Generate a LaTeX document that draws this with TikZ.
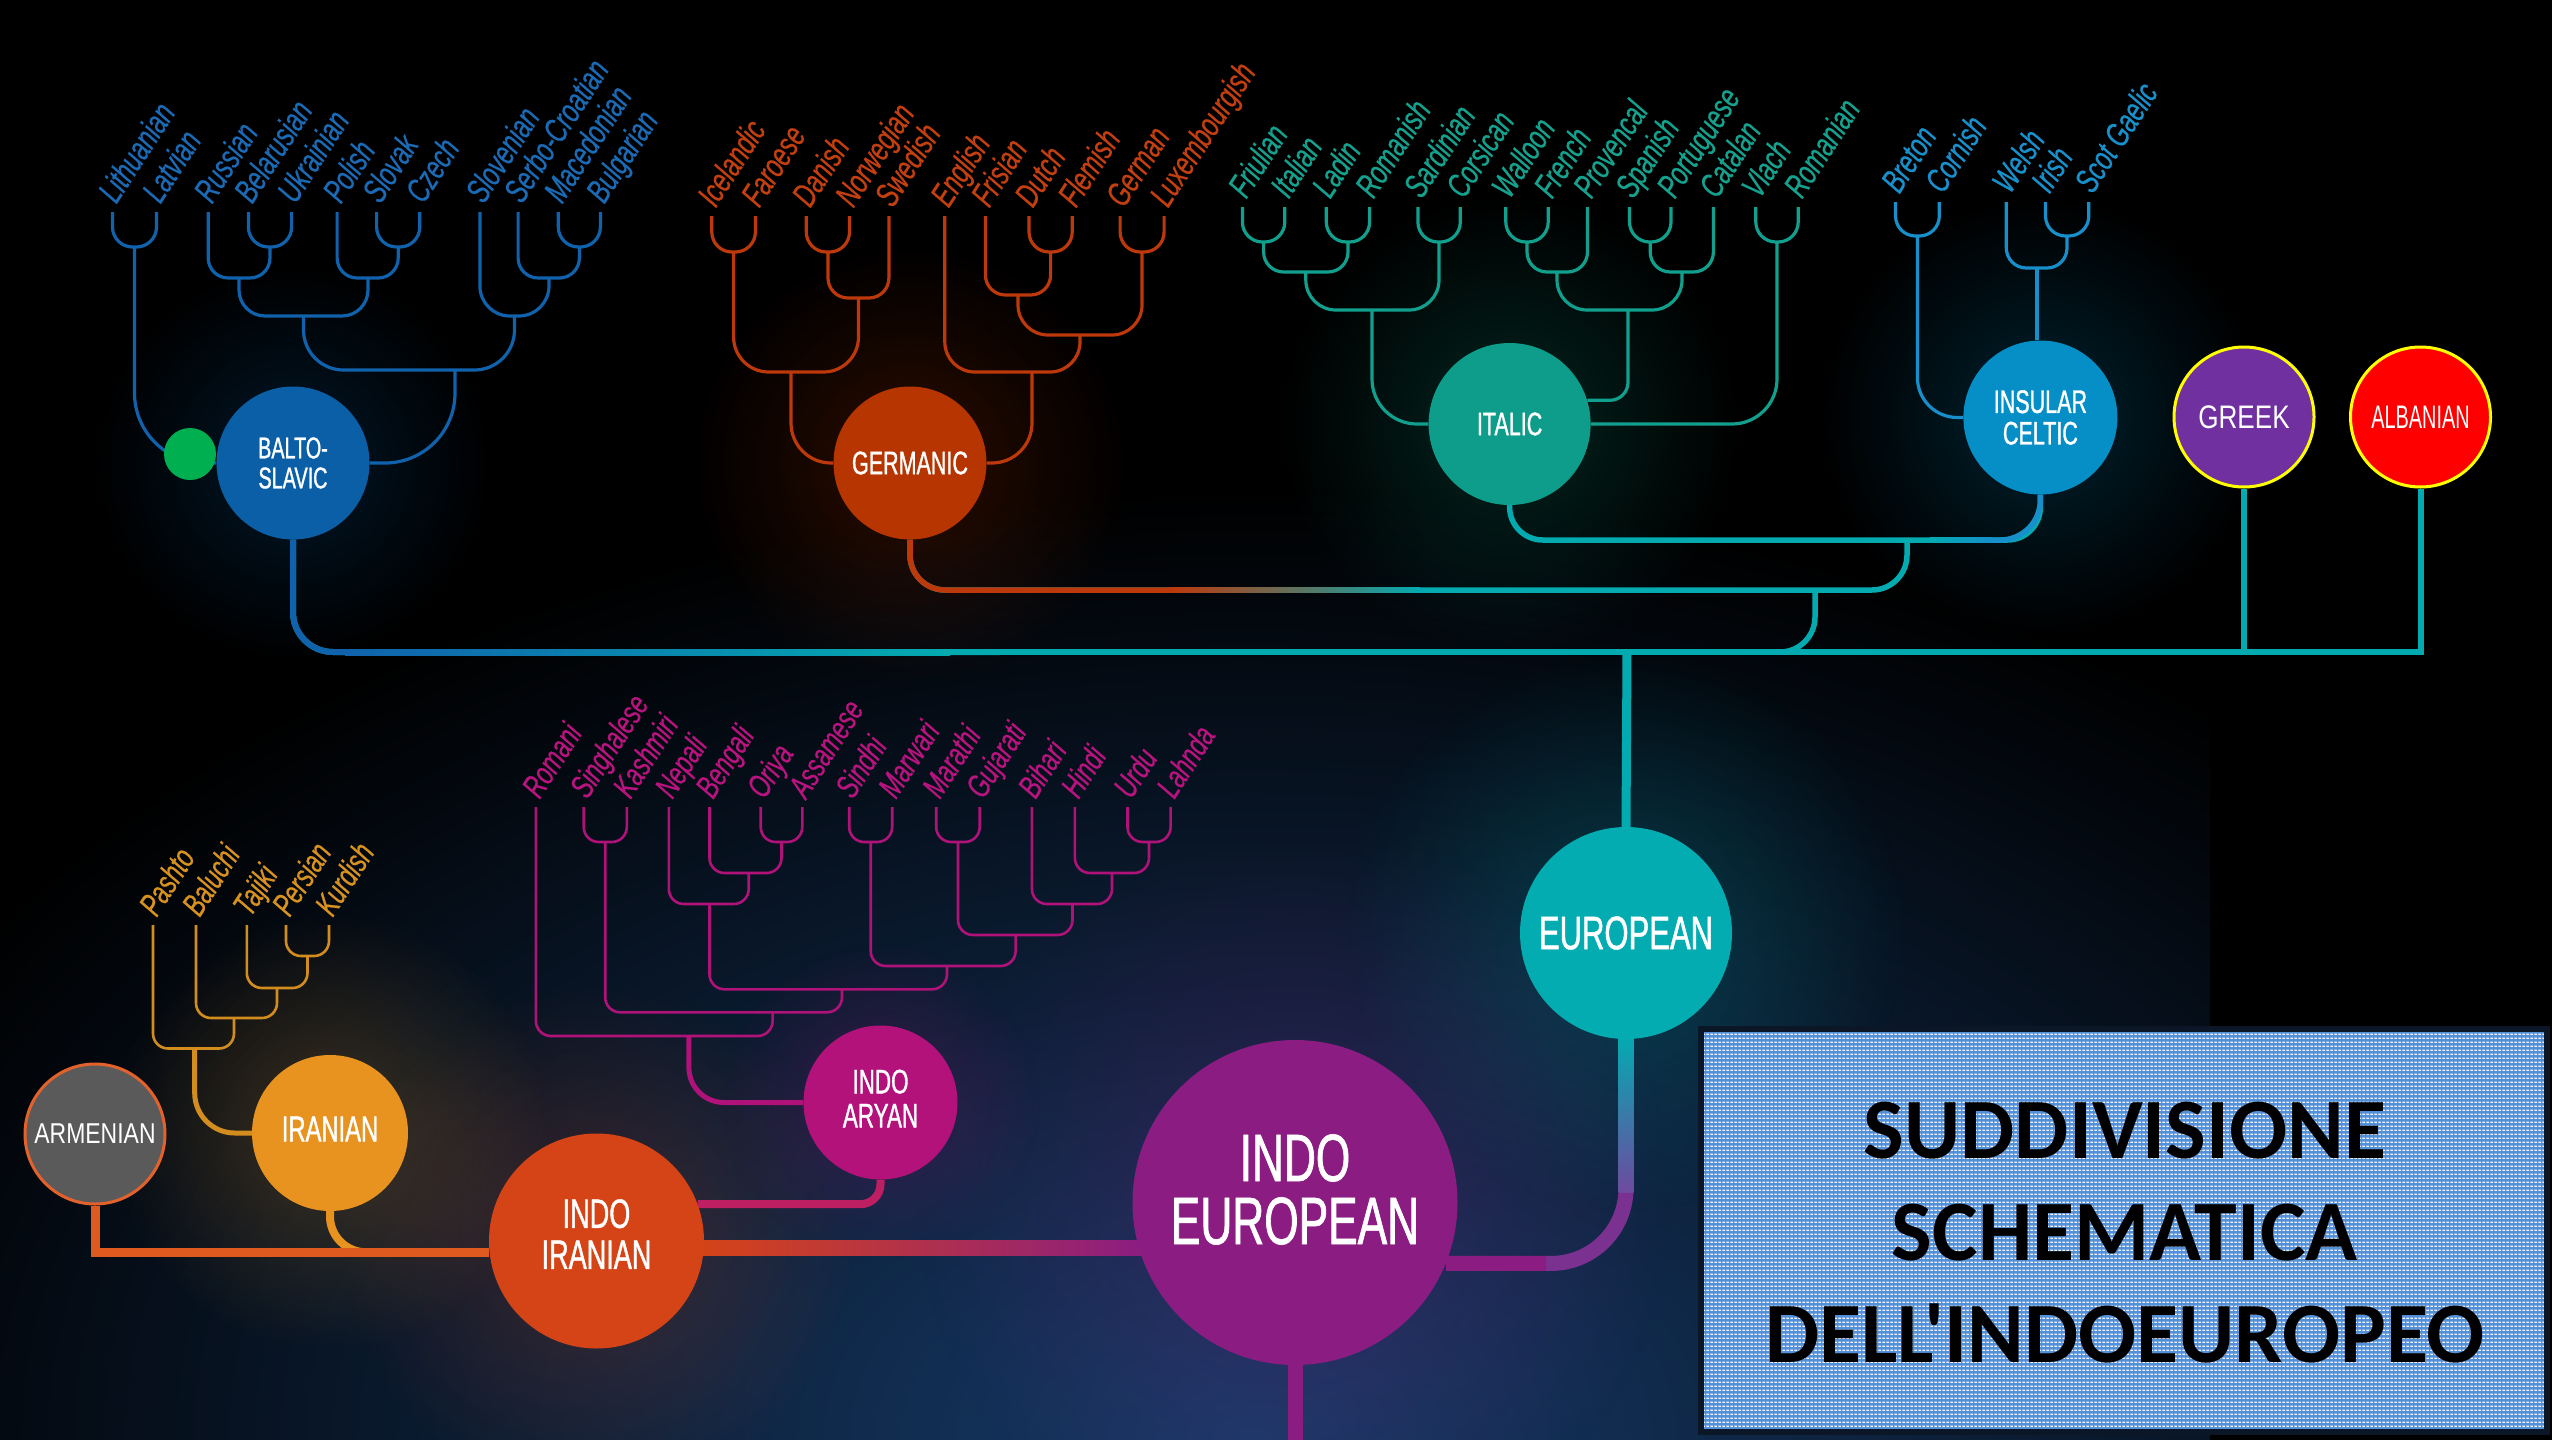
\documentclass[tikz,border=0pt]{standalone}
\usepackage{fontspec}
\usetikzlibrary{fadings,patterns.meta,calc}
\newfontfamily\leaffont[FakeStretch=0.7, FakeBold=0.6]{Liberation Sans}
\newfontfamily\condfont[FakeStretch=0.66, FakeBold=1]{Liberation Sans}
\newfontfamily\narrowfont[FakeStretch=0.8]{Liberation Sans}
\newfontfamily\albfont[FakeStretch=0.61]{Liberation Sans}
\newfontfamily\titlefont{Carlito}
\pgfdeclarelayer{back}
\pgfdeclarelayer{lines}
\pgfsetlayers{back,lines,main}
\definecolor{bsc}{HTML}{1062AC}\definecolor{bsn}{HTML}{0A5FA7}\definecolor{bst}{HTML}{1A6AB5}
\definecolor{greendot}{HTML}{00B050}
\definecolor{gmc}{HTML}{BD390B}\definecolor{gmn}{HTML}{B73500}\definecolor{gmt}{HTML}{C43F10}
\definecolor{itc}{HTML}{12A08E}\definecolor{itn}{HTML}{0E9D8A}\definecolor{itt}{HTML}{14A28F}
\definecolor{icc}{HTML}{168FCA}\definecolor{icn}{HTML}{068EC6}\definecolor{ict}{HTML}{1790CC}
\definecolor{grn}{HTML}{7030A0}\definecolor{yel}{HTML}{FFFF00}\definecolor{aln}{HTML}{FF0000}
\definecolor{euc}{HTML}{03ABB1}\definecolor{eun}{HTML}{02ACB1}
\definecolor{ien}{HTML}{8B1D82}\definecolor{ievio}{HTML}{6E4A9E}\definecolor{ievio2}{HTML}{7A3190}
\definecolor{ian}{HTML}{B4127B}\definecolor{iac}{HTML}{B0127A}\definecolor{iat}{HTML}{B8137E}\definecolor{iac2}{HTML}{BE1F63}
\definecolor{iin}{HTML}{D54417}
\definecolor{irn}{HTML}{E8931F}\definecolor{irc}{HTML}{D38D1F}\definecolor{irt}{HTML}{D8921F}
\definecolor{arn}{HTML}{5A5A5A}\definecolor{arb}{HTML}{E3622C}\definecolor{arline}{HTML}{DF5A1E}
\definecolor{boxblue}{HTML}{5290DA}\definecolor{boxedge}{HTML}{0B1626}
\definecolor{bgnavy}{HTML}{163A68}
\tikzfading[name=glowfade, inner color=transparent!76, outer color=transparent!100]
\tikzdeclarepattern{
  name=dashgrid, type=uncolored,
  bottom left={(0pt,0pt)}, top right={(4.4pt,4.4pt)},
  tile size={(4.4pt,4.4pt)},
  code={\fill (0.5pt,1.2pt) rectangle (3.3pt,2.8pt);}
}
\newcommand\nf[2]{\condfont\fontsize{#1}{#2}\selectfont}
\newcommand\mkleaf[4]{\coordinate (#1) at (#2,#3);\node[leaflab] (#1t) at ([shift={(3,-6)}]#1) {#4};}
\newcommand\mkjoin[6][]{\coordinate (#2) at (#5,#6);\draw[#1] (#3) -- (#3 |- #2) -- (#4 |- #2) -- (#4);}
\tikzset{
  gnode/.style={circle, inner sep=0pt, text=white, align=center},
  labtext/.style={text=white, align=center, inner sep=0pt},
  leaflab/.style={rotate=57, anchor=base west, inner sep=0pt, font=\leaffont\itshape\fontsize{34}{34}\selectfont},
  treeline/.style={line width=3.2pt, rounded corners=20pt},
  thintree/.style={line width=2.6pt, rounded corners=15pt},
  euline/.style={draw=euc, line width=5.5pt},
  titletext/.style={anchor=base, text=black, font=\titlefont\bfseries\fontsize{86}{86}\selectfont}
}
\begin{document}
\begin{tikzpicture}[x=1pt, y=-1pt, line cap=round]
\useasboundingbox (0,0) rectangle (2552,1440);

% ---------------- nodes ----------------
\node[gnode, fill=bsn, minimum size=153pt, font=\nf{30}{30}] (bs) at (293,463) {BALTO-\\SLAVIC};
\node[circle, fill=greendot, minimum size=52pt, inner sep=0pt] (gd) at (190,454) {};
\node[gnode, fill=gmn, minimum size=153pt, font=\nf{32.6}{32}] (gm) at (910,463) {GERMANIC};
\node[gnode, fill=itn, minimum size=162pt, font=\nf{32.6}{32}] (it) at (1509.6,424) {ITALIC};
\node[gnode, fill=icn, minimum size=154pt, font=\nf{32.6}{31.5}] (ic) at (2040.4,417.5) {INSULAR\\CELTIC};
\node[gnode, fill=grn, draw=yel, line width=3pt, minimum size=140pt, font=\narrowfont\fontsize{32.6}{32}\selectfont] (gr) at (2244,417) {GREEK};
\node[gnode, fill=aln, draw=yel, line width=3pt, minimum size=140pt, font=\albfont\fontsize{32.6}{32}\selectfont] (al) at (2420.5,417) {ALBANIAN};
\node[gnode, fill=eun, minimum size=212pt, font=\nf{47}{47}] (eu) at (1626,933) {EUROPEAN};
\node[gnode, fill=ien, minimum size=325pt,
  label={[name=ietext, labtext, yshift=13pt, font=\nf{67}{63}]center:{INDO\\EUROPEAN}}] (ie) at (1295,1202.5) {};
\node[gnode, fill=ian, minimum size=154pt,
  label={[name=iatext, labtext, yshift=4pt, font=\nf{34}{34}]center:{INDO\\ARYAN}}] (ia) at (880.5,1102.5) {};
\node[gnode, fill=iin, minimum size=215pt,
  label={[name=iitext, labtext, yshift=7pt, font=\nf{41}{41}]center:{INDO\\IRANIAN}}] (ii) at (596.5,1241) {};
\node[gnode, fill=irn, minimum size=156pt,
  label={[name=irtext, labtext, yshift=4pt, font=\nf{36}{36}]center:{IRANIAN}}] (ir) at (330,1133) {};
\node[gnode, fill=arn, draw=arb, line width=3pt, minimum size=140pt, font=\narrowfont\fontsize{28.7}{28}\selectfont] (arm) at (95,1134) {ARMENIAN};

% title box
\node[draw=boxedge, line width=6pt, preaction={fill=boxblue}, pattern=dashgrid, pattern color=white!92!boxblue, minimum width=846pt, minimum height=403pt, inner sep=0pt] (box) at (2124,1230.5) {};
\node[titletext] (t1) at (2125,1158) {SUDDIVISIONE};
\node[titletext] (t2) at (2125,1260) {SCHEMATICA};
\node[titletext] (t3) at (2125,1362) {DELL'INDOEUROPEO};

% ---------------- trees and connectors ----------------
\begin{pgfonlayer}{lines}
% Balto-Slavic
\begin{scope}[treeline, draw=bsc, leaflab/.append style={text=bst}]
\mkleaf{lith}{112.5}{212}{Lithuanian}
\mkleaf{latv}{156.5}{212}{Latvian}
\mkleaf{russ}{208.2}{212}{Russian}
\mkleaf{bela}{248.4}{212}{Belarusian}
\mkleaf{ukra}{291.6}{212}{Ukrainian}
\mkleaf{poli}{337.1}{212}{Polish}
\mkleaf{slok}{376.6}{212}{Slovak}
\mkleaf{czec}{419.8}{212}{Czech}
\mkleaf{slov}{479.9}{212}{Slovenian}
\mkleaf{serb}{518.1}{212}{Serbo-Croatian}
\mkleaf{mace}{558.3}{212}{Macedonian}
\mkleaf{bulg}{600.4}{212}{Bulgarian}
\mkjoin{bj1}{lith}{latv}{134.5}{247}
\mkjoin{bj2}{bela}{ukra}{270}{247}
\mkjoin{bj3}{russ}{bj2}{239}{278}
\mkjoin{bj4}{slok}{czec}{398.2}{247}
\mkjoin{bj5}{poli}{bj4}{368}{278}
\mkjoin{bj6}{mace}{bulg}{579.4}{247}
\mkjoin{bj7}{serb}{bj6}{549}{278}
\mkjoin[rounded corners=30pt]{bj8}{slov}{bj7}{514.5}{316}
\mkjoin[rounded corners=26pt]{bj9}{bj3}{bj5}{303.5}{316}
\mkjoin[rounded corners=40pt]{bj10}{bj9}{bj8}{455}{370}
\draw[rounded corners=70pt] (bj10) |- (bs.east);
\draw[rounded corners=70pt] (bj1) |- (bs.west);
\end{scope}
% Germanic
\begin{scope}[treeline, draw=gmc, leaflab/.append style={text=gmt}]
\mkleaf{icel}{711.8}{216}{Icelandic}
\mkleaf{faro}{755.4}{216}{Faroese}
\mkleaf{dani}{806.3}{216}{Danish}
\mkleaf{norw}{849.5}{216}{Norwegian}
\mkleaf{swed}{888.9}{216}{Swedish}
\mkleaf{engl}{944.8}{216}{English}
\mkleaf{fris}{985.4}{216}{Frisian}
\mkleaf{dutc}{1029}{216}{Dutch}
\mkleaf{flem}{1072.2}{216}{Flemish}
\mkleaf{germ}{1120.1}{216}{German}
\mkleaf{luxe}{1164.1}{216}{Luxembourgish}
\mkjoin{gj1}{icel}{faro}{733.6}{252}
\mkjoin{gj2}{dani}{norw}{828}{252}
\mkjoin{gj3}{gj2}{swed}{858.5}{298}
\mkjoin[rounded corners=35pt]{gj4}{gj1}{gj3}{791}{372}
\mkjoin{gj5}{dutc}{flem}{1050.6}{252}
\mkjoin{gj6}{fris}{gj5}{1018}{295}
\mkjoin{gj7}{germ}{luxe}{1142}{252}
\mkjoin[rounded corners=30pt]{gj8}{gj6}{gj7}{1080}{335}
\mkjoin[rounded corners=30pt]{gj9}{engl}{gj8}{1032}{372}
\draw[rounded corners=40pt] (gj4) |- (gm.west);
\draw[rounded corners=40pt] (gj9) |- (gm.east);
\end{scope}
% Italic
\begin{scope}[treeline, draw=itc, leaflab/.append style={text=itt}]
\mkleaf{friu}{1242.4}{207}{Friulian}
\mkleaf{ital}{1284.8}{207}{Italian}
\mkleaf{ladi}{1326.3}{207}{Ladin}
\mkleaf{roma}{1369.6}{207}{Romanish}
\mkleaf{sard}{1417.9}{207}{Sardinian}
\mkleaf{cors}{1460.3}{207}{Corsican}
\mkleaf{wall}{1505.8}{207}{Walloon}
\mkleaf{fren}{1548.2}{207}{French}
\mkleaf{prov}{1587.5}{207}{Provencal}
\mkleaf{span}{1629.5}{207}{Spanish}
\mkleaf{port}{1671}{207}{Portuguese}
\mkleaf{cata}{1713.4}{207}{Catalan}
\mkleaf{vlac}{1755.8}{207}{Vlach}
\mkleaf{romn}{1798.2}{207}{Romanian}
\mkjoin{ij1}{friu}{ital}{1263.6}{242}
\mkjoin{ij2}{ladi}{roma}{1348}{242}
\mkjoin{ij3}{ij1}{ij2}{1305.8}{272}
\mkjoin{ij4}{sard}{cors}{1439}{242}
\mkjoin[rounded corners=30pt]{ij5}{ij3}{ij4}{1372}{310}
\mkjoin{ij6}{wall}{fren}{1527}{242}
\mkjoin{ij7}{ij6}{prov}{1557}{272}
\mkjoin{ij8}{span}{port}{1650.2}{242}
\mkjoin{ij9}{ij8}{cata}{1682}{272}
\mkjoin[rounded corners=30pt]{ij10}{ij7}{ij9}{1628}{310}
\mkjoin{ij11}{vlac}{romn}{1777}{242}
\draw[rounded corners=45pt] (ij5) |- (it.west);
\draw[rounded corners=18pt] (ij10) |- (it.17);
\draw[rounded corners=45pt] (ij11) |- (it.east);
\end{scope}
% Insular Celtic
\begin{scope}[treeline, draw=icc, leaflab/.append style={text=ict}]
\mkleaf{bret}{1895.5}{202}{Breton}
\mkleaf{corn}{1939.3}{202}{Cornish}
\mkleaf{wels}{2006.3}{202}{Welsh}
\mkleaf{iris}{2045.5}{202}{Irish}
\mkleaf{scot}{2088.8}{202}{Scot Gaelic}
\mkjoin{cj1}{bret}{corn}{1917.4}{236}
\mkjoin{cj2}{iris}{scot}{2067}{236}
\mkjoin{cj3}{wels}{cj2}{2037}{268}
\draw (cj3) -- (cj3 |- ic.north);
\draw[rounded corners=40pt] (cj1) |- (ic.west);
\end{scope}
% Indo-Aryan
\begin{scope}[thintree, draw=iac, leaflab/.append style={text=iat, font=\leaffont\itshape\fontsize{33}{33}\selectfont}]
\mkleaf{romi}{535.9}{807}{Romani}
\mkleaf{sing}{583.7}{807}{Singhalese}
\mkleaf{kash}{626.8}{807}{Kashmiri}
\mkleaf{nepa}{668.8}{807}{Nepali}
\mkleaf{beng}{709.5}{807}{Bengali}
\mkleaf{oriy}{760.7}{807}{Oriya}
\mkleaf{assa}{802.3}{807}{Assamese}
\mkleaf{sind}{849.2}{807}{Sindhi}
\mkleaf{marw}{892.2}{807}{Marwari}
\mkleaf{mart}{936.2}{807}{Marathi}
\mkleaf{guja}{979.7}{807}{Gujarati}
\mkleaf{biha}{1031.9}{807}{Bihari}
\mkleaf{hind}{1074.9}{807}{Hindi}
\mkleaf{urdu}{1127.5}{807}{Urdu}
\mkleaf{lahn}{1170.6}{807}{Lahnda}
\mkjoin{aj1}{sing}{kash}{605.2}{842}
\mkjoin{aj2}{oriy}{assa}{781.5}{842}
\mkjoin{aj3}{sind}{marw}{870.7}{842}
\mkjoin{aj4}{mart}{guja}{958}{842}
\mkjoin{aj5}{urdu}{lahn}{1149}{842}
\mkjoin{aj6}{beng}{aj2}{748.7}{873}
\mkjoin{aj7}{hind}{aj5}{1112}{873}
\mkjoin{aj8}{nepa}{aj6}{709.5}{904}
\mkjoin{aj9}{biha}{aj7}{1072.5}{904}
\mkjoin{aj10}{aj4}{aj9}{1015.6}{935}
\mkjoin{aj11}{aj3}{aj10}{947}{966}
\mkjoin{aj12}{aj8}{aj11}{842}{989.3}
\mkjoin{aj13}{aj1}{aj12}{772.6}{1012.3}
\mkjoin{aj14}{romi}{aj13}{688.9}{1036}
\draw[line width=5pt, rounded corners=35pt] (aj14) |- (ia.west);
\end{scope}
% Iranian
\begin{scope}[thintree, draw=irc, leaflab/.append style={text=irt, font=\leaffont\itshape\fontsize{33}{33}\selectfont}]
\mkleaf{pash}{153}{925}{Pashto}
\mkleaf{balu}{196}{925}{Baluchi}
\mkleaf{taji}{246.8}{925}{Tajiki}
\mkleaf{pers}{286}{925}{Persian}
\mkleaf{kurd}{329}{925}{Kurdish}
\mkjoin{rj1}{pers}{kurd}{307.5}{956}
\mkjoin{rj2}{taji}{rj1}{277}{988}
\mkjoin{rj3}{balu}{rj2}{234}{1018}
\mkjoin{rj4}{pash}{rj3}{194.7}{1048.5}
\draw[line width=5pt, rounded corners=40pt] (rj4) |- (ir.west);
\end{scope}

% Italic - Celtic
\coordinate (icj) at (1907,540);
\draw[euline, rounded corners=33pt] (it.south) -- (it.south |- icj) -- (ic.south |- icj) -- (ic.south);
\draw[icc, line width=5.5pt, rounded corners=40pt] (ic.south) -- (ic.south |- icj) -- (1990,540);
\shade[left color=euc, right color=icc] (1930,537.25) rectangle (1992,542.75);
% Germanic line
\coordinate (gmj) at (1815,590);
\draw[euline, rounded corners=35pt] (gm.south) -- (gm.south |- gmj) -- (icj |- gmj) -- (icj);
\draw[gmc, line width=5.5pt, rounded corners=35pt] (gm.south) -- (gm.south |- gmj) -- (1170,590);
\shade[left color=gmc, right color=euc] (1170,587.25) rectangle (1420,592.75);
% main European line
\coordinate (mj) at (1627,652);
\coordinate (mainR) at (al.south |- mj);
\draw[euline, rounded corners=35pt] (gmj) -- (gmj |- mj) -- (1760,652);
\draw[euline, line width=6pt, rounded corners=40pt] (bs.south) -- (bs.south |- mj) -- (1000,652);
\draw[euline, line width=6pt, line cap=butt, line join=miter] (1000,652) -- (mainR) -- (al.south);
\draw[bsc, line width=6pt, rounded corners=40pt] (bs.south) -- (bs.south |- mj) -- (345,652);
\shade[left color=bsc, right color=euc] (345,649) rectangle (950,655);
\draw[euline, line width=6pt] (gr.south) -- (gr.south |- mj);
\draw[euline, line width=9pt] (mj) -- (eu.north);
% Indo-European to European
\draw[ievio2, line width=15pt, rounded corners=75pt] (ie.338) -| (eu.south);
\draw[ien, line width=15pt, line cap=butt] (ie.338) -- ($(ie.338)+(100,0)$);
\shade[top color=euc, bottom color=ievio] (1618.5,1036) rectangle (1633.5,1192);
% Indo-Iranian to Indo-European
\shade[left color=iin, right color=ien] ($(ii.east)+(-5,-0.5)$) rectangle ($(ie.west)+(12,53)$);
% Indo-Aryan to Indo-Iranian
\draw[iac2, line width=8pt, rounded corners=20pt] (ia.south) |- (ii.20);
% Iranian and Armenian
\draw[irn, line width=8pt, rounded corners=36pt] (ir.south) |- ($(ii.186)+(-90,0)$);
\draw[arline, line width=9pt, line cap=butt] (arm.south) |- (ii.186);
% Indo-European root
\coordinate (iebot) at (1295,1440);
\draw[ien, line width=15pt, line cap=butt] (ie.south) -- (iebot);
\end{pgfonlayer}

% ---------------- background ----------------
\begin{pgfonlayer}{back}
\fill[black] (0,0) rectangle (2552,1440);
\begin{scope}
\clip (0,0) rectangle (2210,1440);
\shade[inner color=bgnavy, outer color=black] (1250,1440) ellipse [x radius=1500, y radius=950];
\end{scope}
\fill[bsn, path fading=glowfade] (293,463) circle [radius=200];
\fill[gmn, path fading=glowfade] (910,463) circle [radius=220];
\fill[itn, path fading=glowfade] (1509.6,424) circle [radius=230];
\fill[icn, path fading=glowfade] (2040.4,417.5) circle [radius=220];
\fill[eun, path fading=glowfade] (1626,933) circle [radius=280];
\fill[ien, path fading=glowfade] (1295,1202.5) circle [radius=380];
\fill[iin, path fading=glowfade] (596.5,1241) circle [radius=260];
\fill[irn, path fading=glowfade] (330,1133) circle [radius=220];
\fill[ian, path fading=glowfade] (880.5,1102.5) circle [radius=160];
\end{pgfonlayer}
\end{tikzpicture}
\end{document}
